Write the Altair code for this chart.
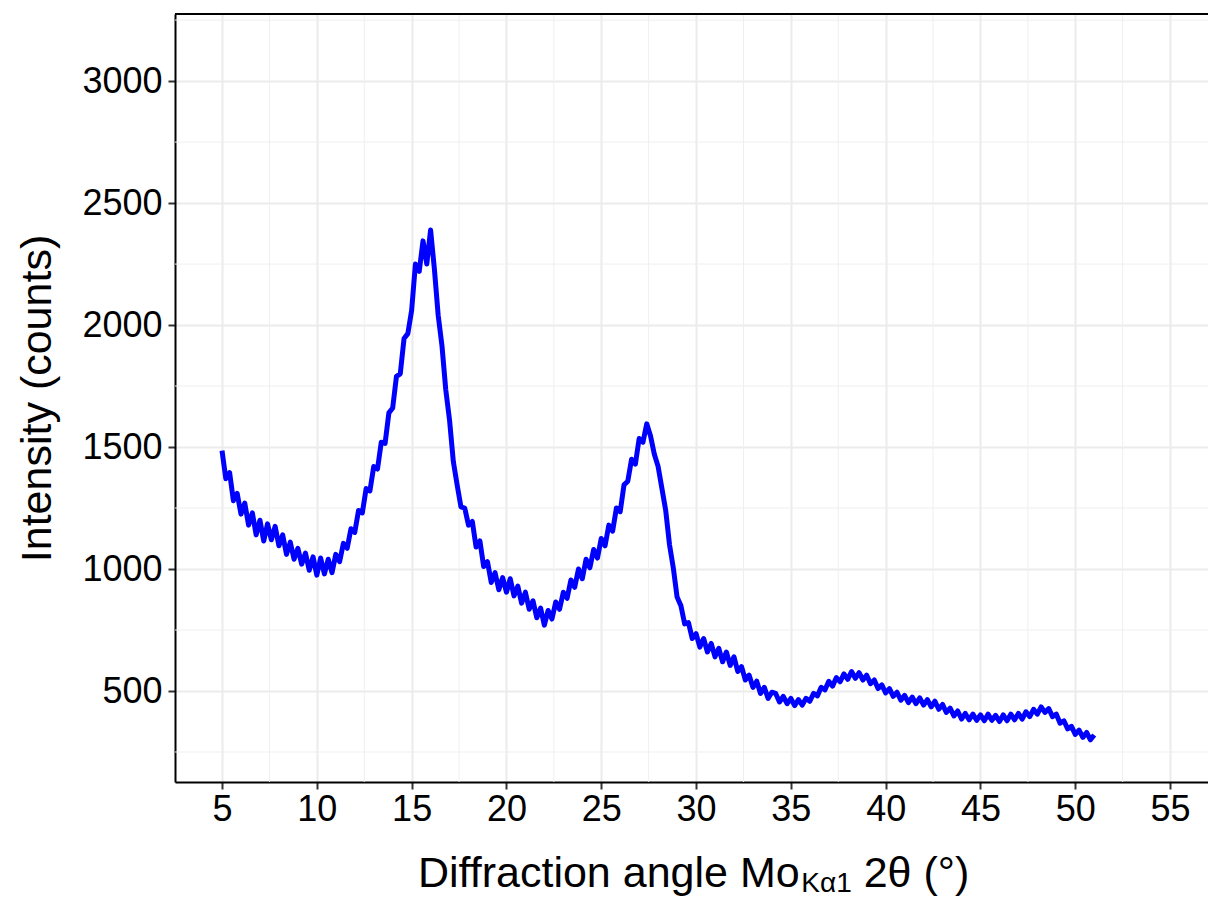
import altair as alt
import pandas as pd

# ---- data (2-theta in degrees, intensity in counts) ----
angle = [
    5.0, 5.2, 5.4, 5.6, 5.8, 6.0, 6.2, 6.4, 6.6, 6.8,
    7.0, 7.2, 7.4, 7.6, 7.8, 8.0, 8.2, 8.4, 8.6, 8.8,
    9.0, 9.2, 9.4, 9.6, 9.8, 10.0, 10.2, 10.4, 10.6, 10.8,
    11.0, 11.2, 11.4, 11.6, 11.8, 12.0, 12.2, 12.4, 12.6, 12.8,
    13.0, 13.2, 13.4, 13.6, 13.8, 14.0, 14.2, 14.4, 14.6, 14.8,
    15.0, 15.2, 15.4, 15.6, 15.8, 16.0, 16.2, 16.4, 16.6, 16.8,
    17.0, 17.2, 17.4, 17.6, 17.8, 18.0, 18.2, 18.4, 18.6, 18.8,
    19.0, 19.2, 19.4, 19.6, 19.8, 20.0, 20.2, 20.4, 20.6, 20.8,
    21.0, 21.2, 21.4, 21.6, 21.8, 22.0, 22.2, 22.4, 22.6, 22.8,
    23.0, 23.2, 23.4, 23.6, 23.8, 24.0, 24.2, 24.4, 24.6, 24.8,
    25.0, 25.2, 25.4, 25.6, 25.8, 26.0, 26.2, 26.4, 26.6, 26.8,
    27.0, 27.2, 27.4, 27.6, 27.8, 28.0, 28.2, 28.4, 28.6, 28.8,
    29.0, 29.2, 29.4, 29.6, 29.8, 30.0, 30.2, 30.4, 30.6, 30.8,
    31.0, 31.2, 31.4, 31.6, 31.8, 32.0, 32.2, 32.4, 32.6, 32.8,
    33.0, 33.2, 33.4, 33.6, 33.8, 34.0, 34.2, 34.4, 34.6, 34.8,
    35.0, 35.2, 35.4, 35.6, 35.8, 36.0, 36.2, 36.4, 36.6, 36.8,
    37.0, 37.2, 37.4, 37.6, 37.8, 38.0, 38.2, 38.4, 38.6, 38.8,
    39.0, 39.2, 39.4, 39.6, 39.8, 40.0, 40.2, 40.4, 40.6, 40.8,
    41.0, 41.2, 41.4, 41.6, 41.8, 42.0, 42.2, 42.4, 42.6, 42.8,
    43.0, 43.2, 43.4, 43.6, 43.8, 44.0, 44.2, 44.4, 44.6, 44.8,
    45.0, 45.2, 45.4, 45.6, 45.8, 46.0, 46.2, 46.4, 46.6, 46.8,
    47.0, 47.2, 47.4, 47.6, 47.8, 48.0, 48.2, 48.4, 48.6, 48.8,
    49.0, 49.2, 49.4, 49.6, 49.8, 50.0, 50.2, 50.4, 50.6, 50.8,
    51.0,
]
counts = [
    1485, 1370, 1395, 1280, 1310, 1225, 1270, 1180, 1230, 1140,
    1200, 1115, 1185, 1120, 1175, 1095, 1140, 1060, 1110, 1040,
    1085, 1020, 1065, 995, 1050, 975, 1045, 980, 1040, 985,
    1060, 1030, 1105, 1085, 1165, 1150, 1240, 1230, 1330, 1320,
    1420, 1410, 1520, 1515, 1640, 1660, 1790, 1800, 1945, 1965,
    2060, 2250, 2220, 2345, 2250, 2390, 2230, 2040, 1915, 1735,
    1610, 1440, 1345, 1255, 1250, 1180, 1195, 1090, 1115, 1010,
    1030, 945, 985, 915, 965, 905, 960, 890, 930, 860,
    905, 835, 870, 800, 840, 770, 830, 795, 865, 835,
    905, 880, 955, 925, 1000, 960, 1040, 1005, 1080, 1045,
    1125, 1095, 1180, 1155, 1250, 1235, 1345, 1360, 1450, 1430,
    1535, 1520, 1595, 1545, 1470, 1420, 1330, 1240, 1100, 1005,
    885, 850, 775, 780, 715, 735, 680, 715, 660, 695,
    640, 675, 620, 660, 605, 640, 580, 600, 545, 565,
    515, 540, 490, 515, 470, 495, 490, 455, 478, 448,
    470, 440, 465, 442, 470, 458, 490, 480, 515, 505,
    540, 520, 555, 538, 570, 548, 580, 552, 575, 545,
    565, 530, 545, 510, 525, 492, 510, 478, 495, 462,
    482, 452, 475, 448, 472, 442, 465, 435, 458, 425,
    445, 412, 430, 398, 418, 385, 408, 382, 405, 380,
    402, 378, 405, 380, 400, 375, 402, 378, 405, 382,
    408, 385, 415, 395, 425, 405, 435, 412, 428, 395,
    405, 368, 378, 345, 355, 322, 340, 310, 330, 300,
    320,
]
x_ticks = [5, 10, 15, 20, 25, 30, 35, 40, 45, 50, 55]
y_ticks = [500, 1000, 1500, 2000, 2500, 3000]
x_minor = [7.5, 12.5, 17.5, 22.5, 27.5, 32.5, 37.5, 42.5, 47.5, 52.5]
y_minor = [250, 750, 1250, 1750, 2250, 2750, 3250]

# ---- layout ----
W, H = 1033, 768
FONT = "Liberation Sans"
TICK_FS = 36
TITLE_FS = 43
SUB_FS = 28

xscale = alt.Scale(domain=[2.52, 57.0], nice=False, zero=False)
yscale = alt.Scale(domain=[127, 3275], nice=False, zero=False)

axis_common = dict(
    grid=True, gridColor="#EBEBEB", gridWidth=2,
    tickSize=7, tickWidth=2, tickColor="#333333",
    domainColor="black", domainWidth=2,
    labelFontSize=TICK_FS, labelColor="black", labelFont=FONT,
    labelFlush=False, labelOverlap=False, format="d",
)
xaxis = alt.Axis(values=x_ticks, title=None, labelPadding=3, **axis_common)
yaxis = alt.Axis(values=y_ticks, title="Intensity (counts)",
                 titleFont=FONT, titleFontSize=TITLE_FS, titleFontWeight="normal",
                 titleColor="black", titleX=-138, titleY=H / 2,
                 titleAlign="center", titleBaseline="middle", titleAngle=270,
                 labelPadding=6, **axis_common)

df = pd.DataFrame({"angle": angle, "counts": counts})

minor_x = alt.Chart(pd.DataFrame({"angle": x_minor})).mark_rule(
    color="#EFEFEF", strokeWidth=1
).encode(x=alt.X("angle:Q", scale=xscale, axis=xaxis))

minor_y = alt.Chart(pd.DataFrame({"counts": y_minor})).mark_rule(
    color="#EFEFEF", strokeWidth=1
).encode(y=alt.Y("counts:Q", scale=yscale, axis=yaxis))

line = alt.Chart(df).mark_line(color="#0000FF", strokeWidth=5, strokeJoin="round").encode(
    x=alt.X("angle:Q", scale=xscale, axis=xaxis),
    y=alt.Y("counts:Q", scale=yscale, axis=yaxis),
)

top_border = alt.Chart(alt.Data(values=[{}])).mark_rule(color="black", strokeWidth=2).encode(
    x=alt.value(0), x2=alt.value(W), y=alt.value(0)
)

# x-axis title built from pieces to get the subscript
part1 = "Diffraction angle Mo"
part2 = "K\u03b11"
part3 = "2\u03b8 (\u00b0)"
t_left = 243
t_base = 873
w1 = 8.892 * TITLE_FS
w2 = 1.80 * SUB_FS
gap = 0.278 * TITLE_FS

def txt(s, x, y, fs):
    return alt.Chart(alt.Data(values=[{}])).mark_text(
        text=s, font=FONT, fontSize=fs, color="black", align="left", baseline="alphabetic"
    ).encode(x=alt.value(x), y=alt.value(y))

title1 = txt(part1, t_left, t_base, TITLE_FS)
title2 = txt(part2, t_left + w1 + 1, t_base + 5, SUB_FS)
title3 = txt(part3, t_left + w1 + 1 + w2 + gap, t_base, TITLE_FS)

chart = alt.layer(minor_x, minor_y, line, top_border, title1, title2, title3).properties(
    width=W, height=H,
    padding={"left": 175, "top": 14, "right": 0, "bottom": 116},
    autosize=alt.AutoSizeParams(type="none"),
    background="white",
).configure_view(stroke=None)

chart.save("out.html", embed_options={"renderer": "svg", "actions": False})
